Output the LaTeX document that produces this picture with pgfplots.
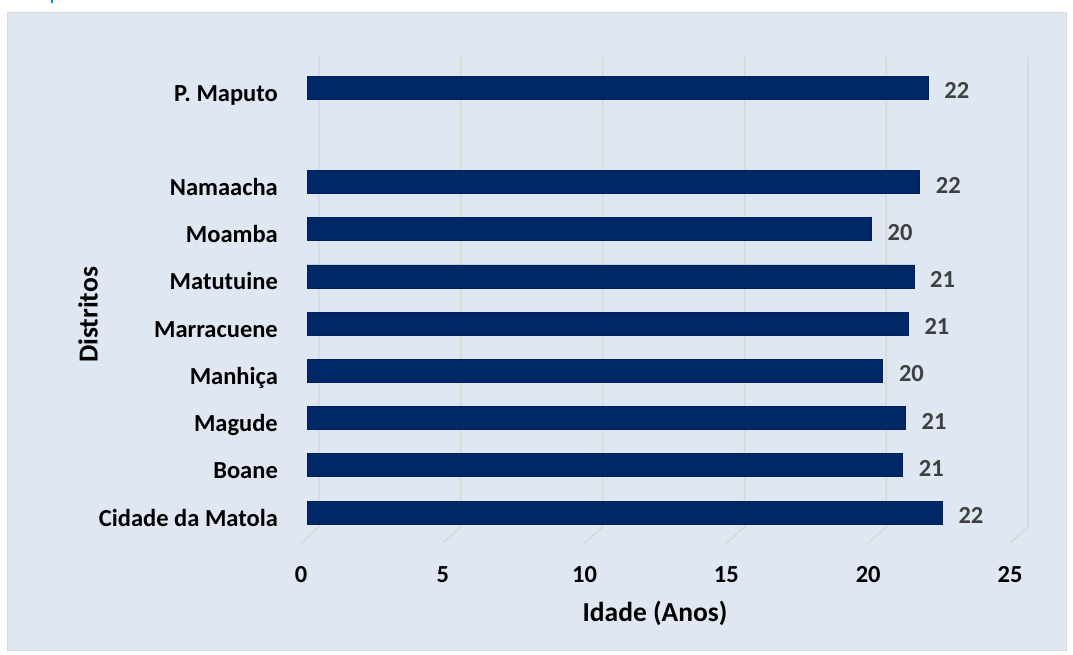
\documentclass[border=0pt]{standalone}
\usepackage{pgfplots}
\pgfplotsset{compat=1.18}
\usepackage{pgfplotstable}
\usepackage{fontspec}
\setmainfont{Carlito}

\definecolor{panel}{HTML}{DFE7F2}
\definecolor{barblue}{HTML}{002766}
\definecolor{gridc}{HTML}{D9D6D2}
\definecolor{lblgrey}{HTML}{404040}

% pos = slot on the category axis (slot 8 left empty)
\pgfplotstableread{
pos val  lab
0   22.4 22
1   21.0 21
2   21.1 21
3   20.3 20
4   21.2 21
5   21.4 21
6   19.9 20
7   21.6 22
9   21.9 22
}\idade

\newcommand{\lbl}{\fontsize{24.5}{28}\selectfont\bfseries}
\newcommand{\ttl}{\fontsize{27.5}{32}\selectfont\bfseries}

\begin{document}
\begin{tikzpicture}[x=1pt,y=1pt]
	\fill[white] (0,0) rectangle (1073,655);
	\filldraw[fill=panel, draw=gray!30] (7,5) rectangle (1066,643);
	\fill[cyan!70!blue] (51,652) rectangle (53,655);

	\begin{axis}[
			at                = {(307pt,112pt)},
			anchor            = south west,
			scale only axis,
			width             = 709pt,
			height            = 486pt,
			clip              = false,
			xbar,
			bar width         = 23pt,
			xmin              = 0,
			xmax              = 25,
			ymin              = -0.646,
			ymax              = 9.65,
			axis line style   = {draw=none},
			major tick length = 0pt,
			xtick             = {0,5,...,25},
			ytick             = {0,1,2,3,4,5,6,7,9},
			yticklabels       = {Cidade da Matola, Boane, Magude, Manhiça, Marracuene, Matutuine, Moamba, Namaacha, P. Maputo},
			/pgf/number format/assume math mode=true,
			tick label style  = {font=\lbl},
			xticklabel style  = {anchor=center, inner sep=0pt, yshift=-32pt, xshift=-6pt},
			yticklabel style  = {anchor=base east, inner sep=0pt, xshift=-29pt, yshift=-13.5pt},
			point meta        = explicit symbolic,
			nodes near coords,
			nodes near coords style = {anchor=west, inner sep=0pt, xshift=16pt, yshift=-3pt, font=\lbl, text=lblgrey},
		]

		% back-wall gridlines with their floor diagonals
		\pgfplotsinvokeforeach{0,5,...,25}{
			\draw[gridc, line width=1.2pt]
				([xshift=-6pt]axis cs:#1,-0.646)
				-- ([xshift=12pt,yshift=16pt]axis cs:#1,-0.646)
				-- ([xshift=12pt]axis cs:#1,9.65);
		}

		\addplot [
			fill = barblue,
			draw = barblue!85!black,
			line width = 0.6pt,
		] table [x=val, y=pos, meta=lab] {\idade};
	\end{axis}

	\node[font=\ttl] at (655,42) {Idade (Anos)};
	\node[font=\ttl, rotate=90] at (88,340) {Distritos};
\end{tikzpicture}
\end{document}
